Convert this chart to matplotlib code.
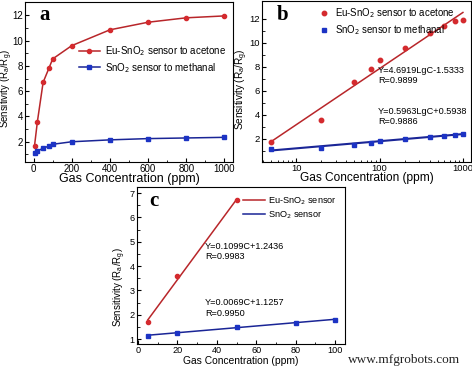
import matplotlib
matplotlib.use("Agg")
import matplotlib.pyplot as plt
import numpy as np

plt.rcParams['font.family'] = ['Liberation Sans', 'DejaVu Sans']

# Gas concentrations (ppm) and sensor responses
conc = [5, 20, 50, 80, 100, 200, 400, 600, 800, 1000]
eu_sno2 = [1.7, 3.6, 6.7, 7.8, 8.55, 9.6, 10.85, 11.45, 11.8, 11.95]
sno2 = [1.12, 1.25, 1.5, 1.65, 1.8, 2.0, 2.15, 2.25, 2.3, 2.35]

# Low-concentration range used in panel c
conc_low_eu = [5, 20, 50]
eu_low = [1.7, 3.6, 6.7]
conc_low_sn = [5, 20, 50, 80, 100]
sn_low = [1.12, 1.27, 1.5, 1.65, 1.8]

# Fit coefficients (slope, intercept)
fit_b_eu = (4.6919, -1.5333)
fit_b_sn = (0.5963, 0.5938)
fit_c_eu = (0.1099, 1.2436)
fit_c_sn = (0.0069, 1.1257)

red_line = '#b8262a'
red_mark = '#d42a2e'
blue_line = '#1a2596'
blue_mark = '#1c33c4'

fig = plt.figure(figsize=(4.72, 3.70), dpi=100)
ax_a = fig.add_axes([25 / 472, 1 - 162 / 370, 208 / 472, 160 / 370])
ax_b = fig.add_axes([262 / 472, 1 - 162 / 370, 209 / 472, 161 / 370])
ax_c = fig.add_axes([137 / 472, 1 - 344 / 370, 208 / 472, 157 / 370])

ylabel = 'Sensitivity (R$_\\mathregular{a}$/R$_\\mathregular{g}$)'
xlabel = 'Gas Concentration (ppm)'

# xlabel size, ylabel size, tick size, ylabel position (axes coords), xlabel pad
sizes = {ax_a: (9, 6.9, 7, (-0.047, 0.46), -0.5),
         ax_b: (8.6, 7.2, 6.8, (-0.058, 0.45), -0.5),
         ax_c: (7.4, 7.0, 6.6, (-0.044, 0.36), 0.5)}
for ax, (xs_f, ys_f, tick_f, ylpos, xpad) in sizes.items():
    ax.tick_params(direction='in', labelsize=tick_f, length=3, pad=1.5)
    ax.tick_params(which='minor', direction='in', length=1.8)
    ax.set_xlabel(xlabel, fontsize=xs_f, labelpad=xpad)
    ax.set_ylabel(ylabel, fontsize=ys_f)
    ax.yaxis.set_label_coords(*ylpos)
    for s in ax.spines.values():
        s.set_linewidth(0.8)

# Panel a
ax_a.plot(conc, eu_sno2, '-o', color=red_line, mfc=red_mark, mec=red_mark,
          ms=3, lw=1.1, label='Eu-SnO$_2$ sensor to acetone')
ax_a.plot(conc, sno2, '-s', color=blue_line, mfc=blue_mark, mec=blue_mark,
          ms=3, lw=1.1, label='SnO$_2$ sensor to methanal')
ax_a.set_xlim(-45, 1045)
ax_a.set_ylim(0.4, 13.05)
ax_a.set_xticks([0, 200, 400, 600, 800, 1000])
ax_a.set_xticks(np.arange(100, 1000, 200), minor=True)
ax_a.set_yticks([2, 4, 6, 8, 10, 12])
ax_a.set_yticks([1, 3, 5, 7, 9, 11], minor=True)
ax_a.legend(loc='upper right', bbox_to_anchor=(1.0, 0.78), frameon=False,
            fontsize=7, handlelength=2.2, labelspacing=0.3, borderaxespad=0.3,
            handletextpad=0.5)
ax_a.text(0.07, 0.92, 'a', transform=ax_a.transAxes, fontsize=15,
          fontweight='bold', family='Liberation Serif', va='center')

# Panel b
ax_b.set_xscale('log')
xs = np.array([5, 1000])
ax_b.plot(xs, fit_b_eu[0] * np.log10(xs) + fit_b_eu[1], color=red_line, lw=1.1)
ax_b.plot(xs, fit_b_sn[0] * np.log10(xs) + fit_b_sn[1], color=blue_line, lw=1.5)
ax_b.plot(conc, eu_sno2, 'o', color=red_mark, ms=3.2,
          label='Eu-SnO$_2$ sensor to acetone')
ax_b.plot(conc, sno2, 's', color=blue_mark, ms=3,
          label='SnO$_2$ sensor to methanal')
ax_b.set_xlim(3.9, 1250)
ax_b.set_ylim(0.05, 13.5)
ax_b.set_xticks([10, 100, 1000])
ax_b.set_xticklabels(['10', '100', '1000'])
ax_b.set_yticks([2, 4, 6, 8, 10, 12])
ax_b.set_yticks([1, 3, 5, 7, 9, 11], minor=True)
ax_b.legend(loc='upper left', bbox_to_anchor=(0.23, 1.02), frameon=False,
            fontsize=6.9, handlelength=1.2, labelspacing=0.35,
            handletextpad=0.5)
ax_b.text(0.07, 0.91, 'b', transform=ax_b.transAxes, fontsize=15,
          fontweight='bold', family='Liberation Serif', va='center')
ax_b.text(96, 7.3, 'Y=4.6919LgC-1.5333\nR=0.9899', fontsize=6.6, va='center',
          linespacing=1.2)
ax_b.text(96, 3.85, 'Y=0.5963LgC+0.5938\nR=0.9886', fontsize=6.6, va='center',
          linespacing=1.2)

# Panel c
xe = np.array([5, 50])
xb = np.array([5, 100])
ax_c.plot(xe, fit_c_eu[0] * xe + fit_c_eu[1], color=red_line, lw=1.1,
          label='Eu-SnO$_2$ sensor')
ax_c.plot(xb, fit_c_sn[0] * xb + fit_c_sn[1], color=blue_line, lw=1.1,
          label='SnO$_2$ sensor')
ax_c.plot(conc_low_eu, eu_low, 'o', color=red_mark, ms=3)
ax_c.plot(conc_low_sn, sn_low, 's', color=blue_mark, ms=3)
ax_c.set_xlim(-0.5, 105)
ax_c.set_ylim(0.8, 7.25)
ax_c.set_xticks([0, 20, 40, 60, 80, 100])
ax_c.set_xticks([10, 30, 50, 70, 90], minor=True)
ax_c.set_yticks([1, 2, 3, 4, 5, 6, 7])
ax_c.set_yticks(np.arange(1.5, 7, 1), minor=True)
ax_c.legend(loc='upper right', frameon=False, fontsize=6.6, handlelength=2.4,
            labelspacing=0.3, borderaxespad=0.5, handletextpad=0.3)
ax_c.text(0.06, 0.91, 'c', transform=ax_c.transAxes, fontsize=15,
          fontweight='bold', family='Liberation Serif', va='center')
ax_c.text(34, 4.6, 'Y=0.1099C+1.2436\nR=0.9983', fontsize=6.6, va='center',
          linespacing=1.2)
ax_c.text(34, 2.28, 'Y=0.0069C+1.1257\nR=0.9950', fontsize=6.6, va='center',
          linespacing=1.2)

fig.text(0.975, 0.012, 'www.mfgrobots.com', ha='right', va='bottom',
         fontsize=9.5, family='Liberation Serif', color='#222222')

fig.savefig('out.png', dpi=100)
